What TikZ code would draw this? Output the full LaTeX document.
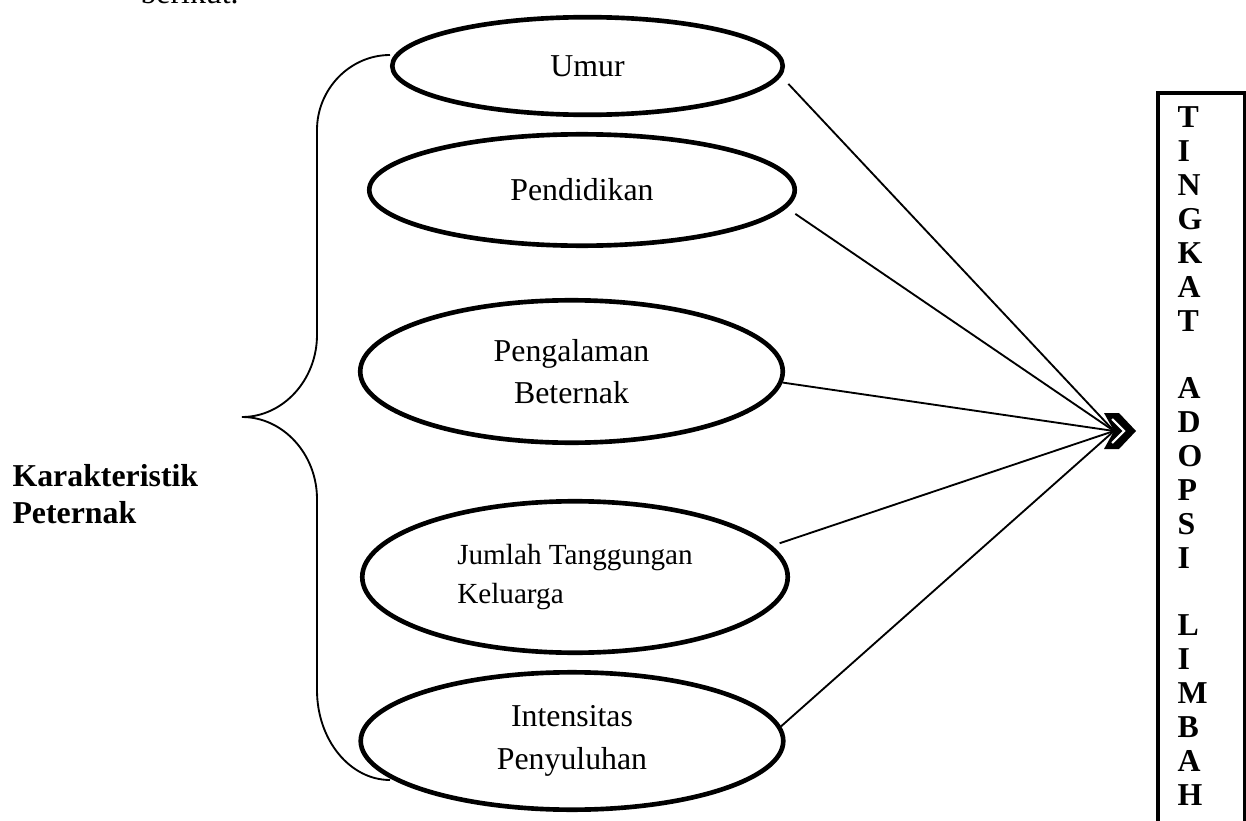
\documentclass[tikz,border=0pt]{standalone}
\usepackage{fontspec}
\setmainfont{Liberation Serif}
\usetikzlibrary{shapes.geometric}

\begin{document}
\begin{tikzpicture}[x=0.377pt, y=-0.377pt,
    elips/.style={draw, ellipse, line width=1.75pt, inner sep=0pt, align=center,
      font=\fontsize{12}{16}\selectfont},
    garis/.style={line width=0.7pt},
    huruf/.style={anchor=base west, inner sep=0pt, font=\bfseries\fontsize{12}{14}\selectfont}]
    \useasboundingbox (0,0) rectangle (1246,821);

    % sisa teks di atas
    \node[anchor=base west, inner sep=0pt, font=\fontsize{12}{14}\selectfont] (berikut) at (140,4) {berikut.};

    % karakteristik
    \node[elips, minimum width=147.2pt, minimum height=36.8pt] (umur) at (587.5,66) {Umur};
    \node[elips, minimum width=160.4pt, minimum height=42pt] (didik) at (582,190) {Pendidikan};
    \node[elips, minimum width=159.3pt, minimum height=53.7pt] (alam) at (571.5,371.5) {Pengalaman\\Beternak};
    \node[elips, minimum width=160.4pt, minimum height=57.1pt, align=left,
      font=\fontsize{11}{14.7}\selectfont] (jumlah) at (575,577) {Jumlah Tanggungan\\Keluarga};
    \node[elips, minimum width=159.3pt, minimum height=51.8pt] (suluh) at (572,741) {Intensitas\\Penyuluhan};

    \node[anchor=north west, align=left, inner sep=0pt, font=\bfseries\fontsize{12}{14}\selectfont]
      (judul) at (12,463.5) {Karakteristik\\Peternak};

    % kurung kurawal
    \draw[garis] (390,55) .. controls (350,55) and (317,89) .. (317,130)
      -- (317,335) .. controls (317,380) and (283,417) .. (242,417)
      .. controls (283,417) and (317,454) .. (317,499)
      -- (317,690) .. controls (317,740) and (350,780) .. (390,780);

    % garis ke kotak
    \coordinate (ujung) at (1114,431);
    \draw[garis, shorten <=4pt] (umur.-3) -- (ujung);
    \draw[garis, shorten <=4pt] (didik.-5) -- (ujung);
    \draw[garis] (alam.-3) -- (ujung);
    \draw[garis, shorten <=3pt] (jumlah.9) -- (ujung);
    \draw[garis] (suluh.4) -- (ujung);
    \fill (1104,413) -- (1119,413) -- (1136,431) -- (1119,449) -- (1104,449) -- (1114,431) -- cycle;
    \draw[white, line width=0.8pt] (1112,419) -- (1124,431) -- (1112,443);

    % kotak tingkat adopsi
    \node[draw, line width=1.75pt, anchor=north west, inner sep=0pt,
      minimum width=32.8pt, minimum height=286.5pt] (kotak) at (1155.5,90.5) {};
    \foreach \h [count=\i from 0] in {T,I,N,G,K,A,T,{},A,D,O,P,S,I,{},L,I,M,B,A,H}
      \node[huruf] (h\i) at (1177,128+33.85*\i) {\h};
\end{tikzpicture}
\end{document}
